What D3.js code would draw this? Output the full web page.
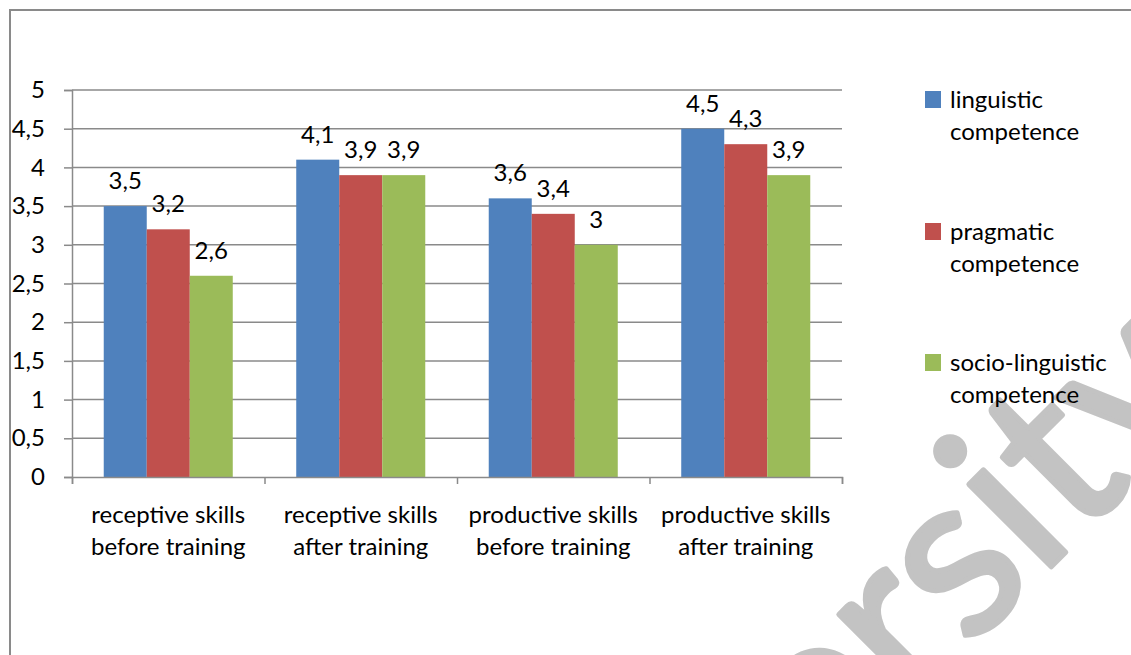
<!DOCTYPE html>
<html>
<head>
<meta charset="utf-8">
<script src="https://cdn.jsdelivr.net/npm/d3@7"></script>
<style>
	body { margin: 0; background: #fff; }
	svg { display: block; }
	text { font-family: Lato, "Open Sans", sans-serif; fill: #000; }
</style>
</head>
<body>
<div id="chart"></div>
<script>
const categories = [
	['receptive skills', 'before training'],
	['receptive skills', 'after training'],
	['productive skills', 'before training'],
	['productive skills', 'after training']
];
const seriesNames = [
	['linguistic', 'competence'],
	['pragmatic', 'competence'],
	['socio-linguistic', 'competence']
];
const linguistic = [3.5, 4.1, 3.6, 4.5];
const pragmatic = [3.2, 3.9, 3.4, 4.3];
const socioLinguistic = [2.6, 3.9, 3.0, 3.9];
const yTicks = [0, 0.5, 1, 1.5, 2, 2.5, 3, 3.5, 4, 4.5, 5];
const yTickLabels = ['0', '0,5', '1', '1,5', '2', '2,5', '3', '3,5', '4', '4,5', '5'];

const colors = ['#4F81BD', '#C0504D', '#9BBB59'];
const seriesValues = [linguistic, pragmatic, socioLinguistic];

const widthSvg = 1131;
const heightSvg = 655;
const plot = {left: 72, right: 842, top: 90, bottom: 477};
const fontSize = 24;

const svg = d3.select('#chart').append('svg')
	.attr('width', widthSvg)
	.attr('height', heightSvg);

svg.append('rect')
	.attr('width', widthSvg)
	.attr('height', heightSvg)
	.attr('fill', '#fff');

// watermark behind everything
const wm = svg.append('g')
	.attr('transform', 'translate(1078,540) rotate(-45)')
	.style('font-size', '230px');
['Universi', 'ty'].forEach((part, i) => {
	wm.append('text')
		.attr('text-anchor', i === 0 ? 'end' : 'start')
		.style('fill', '#c3c3c3')
		.style('stroke', '#c3c3c3')
		.style('stroke-width', 5)
		.style('stroke-linejoin', 'round')
		.text(part);
});

// chart border (cropped at right and bottom)
svg.append('rect')
	.attr('x', 10)
	.attr('y', 10)
	.attr('width', widthSvg + 20)
	.attr('height', heightSvg + 20)
	.attr('fill', 'none')
	.attr('stroke', '#8a8a8a')
	.attr('stroke-width', 2);

const yScale = d3.scaleLinear()
	.domain([0, 5])
	.range([plot.bottom, plot.top]);

const xScale = d3.scaleBand()
	.domain(d3.range(categories.length))
	.range([plot.left, plot.right]);

const innerScale = d3.scaleBand()
	.domain(d3.range(seriesValues.length))
	.range([0, xScale.bandwidth()])
	.paddingOuter(0.738);

// gridlines
svg.append('g')
	.selectAll('line')
	.data(yTicks.slice(1))
	.enter().append('line')
	.attr('x1', plot.left)
	.attr('x2', plot.right)
	.attr('y1', d => yScale(d))
	.attr('y2', d => yScale(d))
	.attr('stroke', '#8a8a8a')
	.attr('stroke-width', 1.5);

// bars
seriesValues.forEach((values, s) => {
	svg.append('g')
		.selectAll('rect')
		.data(values)
		.enter().append('rect')
		.attr('x', (v, i) => xScale(i) + innerScale(s))
		.attr('width', innerScale.bandwidth())
		.attr('y', v => yScale(v))
		.attr('height', v => yScale(0) - yScale(v))
		.attr('fill', colors[s]);

	svg.append('g')
		.selectAll('text')
		.data(values)
		.enter().append('text')
		.attr('x', (v, i) => xScale(i) + innerScale(s) + innerScale.bandwidth() / 2)
		.attr('y', v => yScale(v) - 17)
		.attr('text-anchor', 'middle')
		.style('font-size', fontSize + 'px')
		.text(v => String(v).replace('.', ','));
});

// y axis
const yAxis = d3.axisLeft(yScale)
	.tickValues(yTicks)
	.tickFormat((d, i) => yTickLabels[i])
	.tickSize(8)
	.tickPadding(19);

const gy = svg.append('g')
	.attr('transform', `translate(${plot.left},0)`)
	.call(yAxis);
gy.select('.domain').attr('stroke', '#8a8a8a').attr('stroke-width', 1.5);
gy.selectAll('.tick line').attr('stroke', '#8a8a8a').attr('stroke-width', 1.5);
gy.selectAll('.tick text')
	.style('font-size', fontSize + 'px')
	.style('font-family', 'Lato, sans-serif')
	.attr('fill', '#000');

// x axis with ticks at category boundaries
const boundaryScale = d3.scaleLinear()
	.domain([0, categories.length])
	.range([plot.left, plot.right]);

const xAxis = d3.axisBottom(boundaryScale)
	.ticks(categories.length)
	.tickFormat('')
	.tickSizeInner(7)
	.tickSizeOuter(7);

const gx = svg.append('g')
	.attr('transform', `translate(0,${plot.bottom})`)
	.call(xAxis);
gx.select('.domain').attr('stroke', '#8a8a8a').attr('stroke-width', 1.5);
gx.selectAll('.tick line').attr('stroke', '#8a8a8a').attr('stroke-width', 1.5);

const catLabels = svg.append('g')
	.selectAll('text')
	.data(categories)
	.enter().append('text')
	.attr('text-anchor', 'middle')
	.style('font-size', fontSize + 'px');
catLabels.each(function(lines, i) {
	const t = d3.select(this);
	lines.forEach((line, j) => {
		t.append('tspan')
			.attr('x', xScale(i) + xScale.bandwidth() / 2)
			.attr('y', 523 + j * 32)
			.text(line);
	});
});

// legend
const legendY = [91, 223, 354];
const legend = svg.append('g');
seriesNames.forEach((lines, s) => {
	legend.append('rect')
		.attr('x', 925)
		.attr('y', legendY[s])
		.attr('width', 16)
		.attr('height', 17)
		.attr('fill', colors[s]);
	const t = legend.append('text').style('font-size', fontSize + 'px');
	lines.forEach((line, j) => {
		t.append('tspan')
			.attr('x', 950)
			.attr('y', legendY[s] + 17 + j * 32)
			.text(line);
	});
});
</script>
</body>
</html>
